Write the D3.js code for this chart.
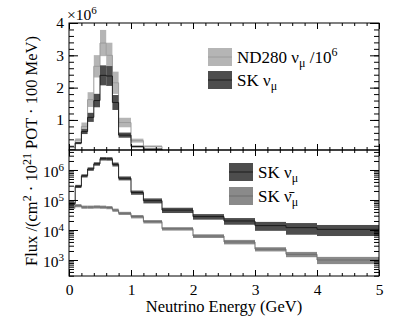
<!DOCTYPE html>
<html>
<head>
<meta charset="utf-8">
<script src="https://cdn.jsdelivr.net/npm/d3@7"></script>
<style>
  body { margin: 0; background: #fff; }
  svg text { font-family: "Liberation Serif", "Times New Roman", Times, serif; fill: #000; }
</style>
</head>
<body>
<div id="chart"></div>
<script>
// bin edges in GeV
const edges = [0, 0.1, 0.2, 0.3, 0.4, 0.5, 0.6, 0.7, 0.8, 1.0, 1.2, 1.5, 2.0, 2.5, 3.0, 3.5, 4.0, 5.0];

// flux per bin (ND280 already divided by 1e6)
const nd280 = [0.15e6, 0.38e6, 0.8e6, 1.63e6, 2.66e6, 3.38e6, 3.0e6, 2.15e6, 0.92e6, 0.36e6, 0.18e6, 0.05e6, 0.025e6, 0.015e6, 0.01e6, 0.008e6, 0.006e6];
const skNumu = [7.5e4, 2.85e5, 6.4e5, 1.08e6, 1.6e6, 2.38e6, 2.36e6, 1.54e6, 5.3e5, 1.78e5, 9.5e4, 4.6e4, 2.8e4, 2.0e4, 1.4e4, 1.2e4, 1.05e4];
const skNumubar = [5.8e4, 6.5e4, 5.8e4, 5.8e4, 5.9e4, 5.8e4, 5.6e4, 4.6e4, 3.6e4, 2.8e4, 1.9e4, 1.1e4, 6.3e3, 4.0e3, 2.3e3, 1.55e3, 1.0e3];

// fractional error bands
const nd280Err = [0.15, 0.13, 0.15, 0.14, 0.13, 0.12, 0.13, 0.16, 0.16, 0.17, 0.17, 0.2, 0.2, 0.2, 0.2, 0.2, 0.2];
const skNumuErr = [0.12, 0.12, 0.12, 0.13, 0.13, 0.13, 0.13, 0.15, 0.15, 0.16, 0.19, 0.2, 0.21, 0.25, 0.33, 0.42, 0.4];
const skNumubarErr = [0.13, 0.12, 0.12, 0.12, 0.12, 0.12, 0.12, 0.12, 0.12, 0.13, 0.13, 0.13, 0.14, 0.17, 0.16, 0.2, 0.27];

const xMajor = [0, 1, 2, 3, 4, 5];
const topYMajor = [1e6, 2e6, 3e6, 4e6];
const logMajor = [1e3, 1e4, 1e5, 1e6];

const FONT = "Liberation Serif, Times New Roman, serif";
const width = 402, height = 318;
const left = 69, right = 379;
const topPanel = { y0: 23, y1: 150 };
const botPanel = { y0: 150, y1: 276 };

const svg = d3.select("#chart").append("svg")
  .attr("width", width)
  .attr("height", height)
  .attr("font-family", FONT);

svg.append("rect").attr("width", width).attr("height", height).attr("fill", "#fff");

const x = d3.scaleLinear().domain([0, 5]).range([left, right]);
const yTop = d3.scaleLinear().domain([0.07e6, 4e6]).range([topPanel.y1, topPanel.y0]);
const yBot = d3.scaleLog().domain([293, 4.64e6]).range([botPanel.y1, botPanel.y0]);

const defs = svg.append("defs");
defs.append("clipPath").attr("id", "clipTop").append("rect")
  .attr("x", left).attr("y", topPanel.y0).attr("width", right - left).attr("height", topPanel.y1 - topPanel.y0);
defs.append("clipPath").attr("id", "clipBot").append("rect")
  .attr("x", left).attr("y", botPanel.y0).attr("width", right - left).attr("height", botPanel.y1 - botPanel.y0);

function bins(values, errs) {
  return values.map(function (v, i) {
    return { x0: edges[i], x1: edges[i + 1], v: v, lo: v * (1 - errs[i]), hi: v * (1 + errs[i]) };
  });
}

function drawSeries(g, y, values, errs, bandColor, lineColor) {
  const data = bins(values, errs);
  g.append("g").selectAll("rect")
    .data(data)
    .enter()
    .append("rect")
    .attr("x", d => x(d.x0))
    .attr("width", d => x(d.x1) - x(d.x0))
    .attr("y", d => y(d.hi))
    .attr("height", d => y(d.lo) - y(d.hi))
    .attr("fill", bandColor);

  const pts = data.map(d => [d.x0, d.v]);
  pts.push([edges[edges.length - 1], values[values.length - 1]]);
  const line = d3.line()
    .x(d => x(d[0]))
    .y(d => y(d[1]))
    .curve(d3.curveStepAfter);
  g.append("path")
    .attr("d", line(pts))
    .attr("fill", "none")
    .attr("stroke", lineColor)
    .attr("stroke-width", 1);
}

// ---- top panel
const gTop = svg.append("g").attr("clip-path", "url(#clipTop)");
drawSeries(gTop, yTop, nd280, nd280Err, "#b5b5b5", "#9c9c9c");
drawSeries(gTop, yTop, skNumu, skNumuErr, "#4d4d4d", "#1c1c1c");

// ---- bottom panel
const gBot = svg.append("g").attr("clip-path", "url(#clipBot)");
drawSeries(gBot, yBot, skNumubar, skNumubarErr, "#8a8a8a", "#6c6c6c");
drawSeries(gBot, yBot, skNumu, skNumuErr, "#4d4d4d", "#1c1c1c");

// ---- axes
const xMinor = d3.range(0, 5.001, 0.2).map(v => +v.toFixed(1));
const topYMinor = d3.range(0.2e6, 4e6 + 1, 0.2e6);
const logMinor = [];
[100, 1e3, 1e4, 1e5, 1e6].forEach(function (dec) {
  for (let k = 2; k <= 9; k++) {
    const v = k * dec;
    if (v >= 293 && v <= 4.64e6) logMinor.push(v);
  }
});

function axisGroup(tx, ty) {
  return svg.append("g").attr("transform", "translate(" + tx + "," + ty + ")");
}

function styleAxis(g) {
  g.attr("font-family", FONT).attr("font-size", 15.5);
  g.select(".domain").remove();
  g.selectAll("line").attr("stroke", "#000").attr("stroke-width", 1);
  g.selectAll("text").attr("fill", "#000");
}

function xAxes(panel, labels) {
  // bottom edge
  let g = axisGroup(0, panel.y1);
  g.call(d3.axisBottom(x).tickValues(xMinor).tickSize(-3).tickFormat(""));
  styleAxis(g);
  g = axisGroup(0, panel.y1);
  g.call(d3.axisBottom(x).tickValues(xMajor).tickSize(-6).tickPadding(labels ? 8 : 0)
    .tickFormat(labels ? d3.format("d") : ""));
  styleAxis(g);
  // top edge
  g = axisGroup(0, panel.y0);
  g.call(d3.axisTop(x).tickValues(xMinor).tickSize(-3).tickFormat(""));
  styleAxis(g);
  g = axisGroup(0, panel.y0);
  g.call(d3.axisTop(x).tickValues(xMajor).tickSize(-6).tickFormat(""));
  styleAxis(g);
}

function yAxes(scale, majors, minors, fmt) {
  let g = axisGroup(left, 0);
  g.call(d3.axisLeft(scale).tickValues(minors).tickSize(-5).tickFormat(""));
  styleAxis(g);
  g = axisGroup(left, 0);
  g.call(d3.axisLeft(scale).tickValues(majors).tickSize(-9).tickPadding(5).tickFormat(fmt));
  styleAxis(g);
  const labelled = g;
  g = axisGroup(right, 0);
  g.call(d3.axisRight(scale).tickValues(minors).tickSize(-5).tickFormat(""));
  styleAxis(g);
  g = axisGroup(right, 0);
  g.call(d3.axisRight(scale).tickValues(majors).tickSize(-9).tickFormat(""));
  styleAxis(g);
  return labelled;
}

xAxes(topPanel, false);
xAxes(botPanel, true);

yAxes(yTop, topYMajor, topYMinor, d => d3.format("d")(d / 1e6));

const logAxis = yAxes(yBot, logMajor, logMinor, d => "10");
logAxis.selectAll(".tick text").each(function (d) {
  const t = d3.select(this);
  t.text(null);
  t.append("tspan").text("10");
  t.append("tspan").attr("dy", -6).attr("font-size", 11).text(Math.round(Math.log10(d)));
}).attr("dy", "0.45em");

// frames
[topPanel, botPanel].forEach(function (p) {
  svg.append("rect")
    .attr("x", left).attr("y", p.y0)
    .attr("width", right - left).attr("height", p.y1 - p.y0)
    .attr("fill", "none").attr("stroke", "#000").attr("stroke-width", 1);
});

// exponent on top panel
const expo = svg.append("text").attr("x", 67).attr("y", 20).attr("font-size", 15.5);
expo.append("tspan").text("\u00d710");
expo.append("tspan").attr("dy", -6).attr("font-size", 11).text("6");

// axis titles
svg.append("text")
  .attr("x", 224).attr("y", 312)
  .attr("text-anchor", "middle")
  .attr("font-size", 16.5)
  .text("Neutrino Energy (GeV)");

const yTitle = svg.append("text")
  .attr("transform", "translate(37,151) rotate(-90)")
  .attr("text-anchor", "middle")
  .attr("font-size", 16.5);
yTitle.append("tspan").text("Flux /(cm");
yTitle.append("tspan").attr("dy", -6).attr("font-size", 12).text("2");
yTitle.append("tspan").attr("dy", 6).text(" \u00b7 10");
yTitle.append("tspan").attr("dy", -6).attr("font-size", 12).text("21");
yTitle.append("tspan").attr("dy", 6).text(" POT \u00b7 100 MeV)");

// legends
function legendEntry(lx, ly, bandColor, lineColor, build) {
  const w = 24, h = 18;
  svg.append("rect").attr("x", lx).attr("y", ly).attr("width", w).attr("height", h).attr("fill", bandColor);
  svg.append("line").attr("x1", lx).attr("x2", lx + w).attr("y1", ly + h / 2).attr("y2", ly + h / 2)
    .attr("stroke", lineColor).attr("stroke-width", 1);
  const t = svg.append("text").attr("x", lx + w + 5).attr("y", ly + h - 3).attr("font-size", 17);
  build(t);
}

legendEntry(208, 48, "#b5b5b5", "#9c9c9c", function (t) {
  t.append("tspan").text("ND280 \u03bd");
  t.append("tspan").attr("dy", 4).attr("font-size", 12).text("\u03bc");
  t.append("tspan").attr("dy", -4).text(" /10");
  t.append("tspan").attr("dy", -7).attr("font-size", 12).text("6");
});
legendEntry(208, 71, "#4d4d4d", "#1c1c1c", function (t) {
  t.append("tspan").text("SK \u03bd");
  t.append("tspan").attr("dy", 4).attr("font-size", 12).text("\u03bc");
});
legendEntry(229, 163, "#4d4d4d", "#1c1c1c", function (t) {
  t.append("tspan").text("SK \u03bd");
  t.append("tspan").attr("dy", 4).attr("font-size", 12).text("\u03bc");
});
legendEntry(229, 187, "#8a8a8a", "#6c6c6c", function (t) {
  t.append("tspan").text("SK \u03bd\u0304");
  t.append("tspan").attr("dy", 4).attr("font-size", 12).text("\u03bc");
});
</script>
</body>
</html>
